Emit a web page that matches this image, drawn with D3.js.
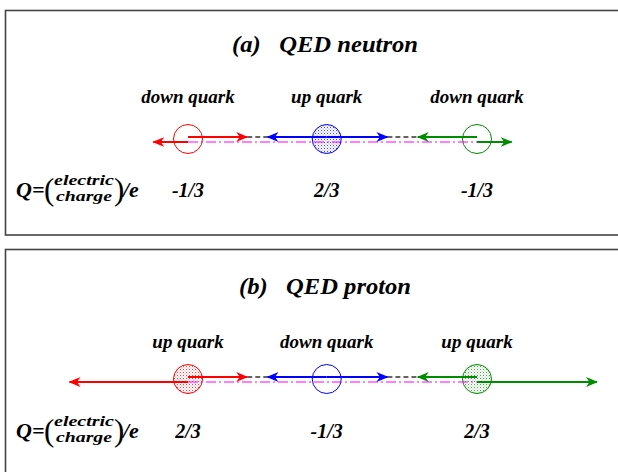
<!DOCTYPE html>
<html><head><meta charset="utf-8">
<script src="https://cdn.jsdelivr.net/npm/d3@7"></script>
<style>html,body{margin:0;padding:0;background:#fff;} svg{display:block;}</style>
</head><body>
<svg id="chart" width="618" height="472"></svg>
<script>
// ---- data ----
const panelTitles = ["(a)   QED neutron", "(b)   QED proton"];
const quarkNames = [["down quark", "up quark", "down quark"], ["up quark", "down quark", "up quark"]];
const charges = [["-1/3", "2/3", "-1/3"], ["2/3", "-1/3", "2/3"]];
const stippled = [[false, true, false], [true, false, true]];
const quarkPos = [-1.0, -0.04, 1.0];            // positions along the axis (arbitrary units)
const innerReach = [-0.59, -0.45, 0.38, 0.59];  // tips of the inner field arrows
const outerReach = [[-1.24, 1.24], [-1.82, 1.83]]; // tips of the outer field arrows
const quarkColors = ["#ff0000", "#0000ff", "#008c00"];

// ---- layout ----
const svg = d3.select("#chart");
const x = d3.scaleLinear().domain([-1, 1]).range([188, 477]);
const panelTop = [10, 249];
const titleY = [42, 45], labelY = [93, 99], circleY = [129, 130], chargeY = [187, 189];
const titleW = [186, 172];
const fontFam = "'Liberation Serif', 'Times New Roman', serif";

const defs = svg.append("defs");
quarkColors.forEach((c, i) => {
  const p = defs.append("pattern").attr("id", "dots" + i).attr("patternUnits", "userSpaceOnUse")
    .attr("width", 3).attr("height", 3);
  p.append("rect").attr("width", 3).attr("height", 3).attr("fill", "#fff");
  p.append("rect").attr("x", 0).attr("y", 0).attr("width", 1).attr("height", 1).attr("fill", c).attr("opacity", 0.75);
  p.append("rect").attr("x", 1.5).attr("y", 1.5).attr("width", 1).attr("height", 1).attr("fill", c).attr("opacity", 0.5);
  defs.append("marker").attr("id", "arr" + i)
    .attr("markerUnits", "userSpaceOnUse").attr("viewBox", "0 0 12 10")
    .attr("markerWidth", 12).attr("markerHeight", 10).attr("refX", 11).attr("refY", 5)
    .attr("orient", "auto")
    .append("path").attr("d", "M0,0 L12,5 L0,10 L3.5,5 Z").attr("fill", c);
});

panelTitles.forEach((title, p) => {
  const g = svg.append("g").attr("transform", `translate(0,${panelTop[p]})`);
  g.append("rect").attr("x", 5.5).attr("y", 0.5).attr("width", 700).attr("height", p === 0 ? 224.5 : 400)
    .attr("fill", "none").attr("stroke", "#444").attr("stroke-width", 1.6);

  g.append("text").attr("x", 325).attr("y", titleY[p]).attr("text-anchor", "middle")
    .attr("font-family", fontFam).attr("font-weight", "bold").attr("font-style", "italic")
    .attr("font-size", 24).attr("xml:space", "preserve").attr("textLength", titleW[p]).attr("lengthAdjust", "spacingAndGlyphs")
    .text(title);

  const cy = circleY[p];
  const yUp = cy - 2, yLo = cy + 3;

  // labels
  g.selectAll("text.lab").data(quarkNames[p]).join("text").attr("class", "lab")
    .attr("x", (d, i) => x(quarkPos[i])).attr("y", labelY[p]).attr("text-anchor", "middle")
    .attr("font-family", fontFam).attr("font-weight", "bold").attr("font-style", "italic")
    .attr("font-size", 19)
    .text(d => d);

  // circles
  g.selectAll("circle.q").data(quarkPos).join("circle").attr("class", "q")
    .attr("cx", d => x(d)).attr("cy", cy).attr("r", 14.5)
    .attr("fill", (d, i) => stippled[p][i] ? `url(#dots${i})` : "none")
    .attr("stroke", (d, i) => quarkColors[i]).attr("stroke-width", 1);

  // magenta dash-dot
  g.append("line").attr("x1", x(quarkPos[0])).attr("x2", x(quarkPos[2])).attr("y1", yLo).attr("y2", yLo)
    .attr("stroke", "#ff00ff").attr("stroke-width", 1.2).attr("stroke-dasharray", "10,3,2,3");

  // black dashed links
  [[innerReach[0], innerReach[1]], [innerReach[2], innerReach[3]]].forEach(([a, b]) => {
    g.append("line").attr("x1", x(a)).attr("x2", x(b)).attr("y1", yUp).attr("y2", yUp)
      .attr("stroke", "#333").attr("stroke-width", 1.5).attr("stroke-dasharray", "5,3");
  });

  // arrows
  const arrows = [
    { c: 0, from: quarkPos[0], to: innerReach[0], y: yUp },
    { c: 1, from: quarkPos[1], to: innerReach[1], y: yUp },
    { c: 1, from: quarkPos[1], to: innerReach[2], y: yUp },
    { c: 2, from: quarkPos[2], to: innerReach[3], y: yUp },
    { c: 0, from: quarkPos[0], to: outerReach[p][0], y: yLo },
    { c: 2, from: quarkPos[2], to: outerReach[p][1], y: yLo }
  ];
  g.selectAll("line.arr").data(arrows).join("line").attr("class", "arr")
    .attr("x1", d => x(d.from)).attr("x2", d => x(d.to)).attr("y1", d => d.y).attr("y2", d => d.y)
    .attr("stroke", d => quarkColors[d.c]).attr("stroke-width", 2.2)
    .attr("marker-end", d => `url(#arr${d.c})`);

  // charges
  const qy = chargeY[p];
  g.selectAll("text.chg").data(charges[p]).join("text").attr("class", "chg")
    .attr("x", (d, i) => x(quarkPos[i])).attr("y", qy).attr("text-anchor", "middle")
    .attr("font-family", fontFam).attr("font-weight", "bold").attr("font-style", "italic")
    .attr("font-size", 20)
    .text(d => d);

  // Q formula
  const f = g.append("g").attr("font-family", fontFam).attr("font-weight", "bold").attr("font-style", "italic");
  f.append("text").attr("x", 16).attr("y", qy).attr("font-size", 22).text("Q=");
  f.append("text").attr("x", 44).attr("y", qy + 3).attr("font-size", 31).attr("font-style", "normal").attr("font-weight", "normal").text("(");
  f.append("text").attr("x", 84).attr("y", qy - 12).attr("font-size", 14.5).attr("text-anchor", "middle")
    .attr("textLength", 60).attr("lengthAdjust", "spacingAndGlyphs").text("electric");
  f.append("text").attr("x", 84).attr("y", qy + 4).attr("font-size", 14.5).attr("text-anchor", "middle")
    .attr("textLength", 56).attr("lengthAdjust", "spacingAndGlyphs").text("charge");
  f.append("text").attr("x", 114).attr("y", qy + 3).attr("font-size", 31).attr("font-style", "normal").attr("font-weight", "normal").text(")");
  f.append("text").attr("x", 123).attr("y", qy).attr("font-size", 22).text("/e");
});
</script>
</body></html>
